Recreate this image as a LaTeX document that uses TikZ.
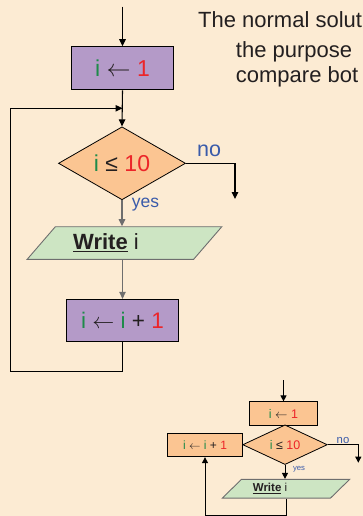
\documentclass[tikz,border=0pt]{standalone}
\usepackage{graphicx}
\usepackage{fontspec}
\setmainfont{Liberation Sans}
\usetikzlibrary{shapes.geometric,arrows.meta}

\definecolor{bgcream}{HTML}{FCEBD3}
\definecolor{boxpurple}{HTML}{B49AC8}
\definecolor{decorange}{HTML}{FBC592}
\definecolor{iogreen}{HTML}{CDE5C3}
\definecolor{vargreen}{HTML}{1E8B4A}
\definecolor{numred}{HTML}{EC2529}
\definecolor{lblblue}{HTML}{3A5BAA}
\definecolor{flowgray}{HTML}{6E6E6E}
\definecolor{inkdark}{HTML}{231F20}

\newcommand{\fsz}[1]{\fontsize{#1}{#1}\selectfont}
\newcommand{\vi}{\textcolor{vargreen}{i}}
\newcommand{\nr}[1]{\textcolor{numred}{#1}}
% assignment arrow, scaled from a 10pt math arrow
\newcommand{\getsarrow}[1]{\scalebox{#1}{\fontsize{10}{10}\selectfont$\leftarrow$}}

\begin{document}
\begin{tikzpicture}[x=1pt,y=-1pt,
  proc/.style={rectangle, draw=black, line width=0.9pt, inner sep=0pt, text=inkdark},
  dec/.style={diamond, draw=black, line width=0.8pt, fill=decorange, inner sep=0pt, text=inkdark},
  io/.style={trapezium, trapezium stretches=true, draw=flowgray, line width=0.9pt,
             fill=iogreen, inner sep=0pt, text=inkdark},
  plain/.style={inner sep=0pt, text=inkdark},
  lbl/.style={inner sep=0pt, text=lblblue},
  flow/.style={line width=1.1pt, -{Triangle[length=7pt,width=6.5pt]}},
  grayflow/.style={flow, draw=flowgray},
  sflow/.style={line width=1pt, -{Triangle[length=6pt,width=6pt]}}]

\useasboundingbox (0,0) rectangle (363,516);
\clip (0,0) rectangle (363,516);
\fill[bgcream] (0,0) rectangle (363,516);

% ---------- heading text ----------
\node[plain, anchor=base west] (t1) at (198,27.7) {\fsz{22}The normal solut};
\node[plain, anchor=base west] (t2) at (235.7,57.3) {\fsz{22}the purpose};
\node[plain, anchor=base west] (t3) at (235.7,82.7) {\fsz{22}compare bot};

% ---------- large flowchart ----------
\node[proc, fill=boxpurple, minimum width=102pt, minimum height=43.3pt] (init) at (122.5,68.3)
  {\fsz{23}\vi\ \getsarrow{2.4}\ \nr{1}};
\node[dec, minimum width=127pt, minimum height=65.3pt] (test) at (122,163.3)
  {\fsz{23}\vi\ ≤ \nr{10}};
% the trailing space pushes the caption left of the shape's centre
\node[io, trapezium left angle=41, trapezium right angle=139,
      minimum width=195pt, minimum height=32.6pt] (out) at (124.5,243)
  {\fsz{22}\underline{\textbf{Write}} i\hspace*{37pt}};
\node[proc, fill=boxpurple, minimum width=111.6pt, minimum height=42.4pt] (incr) at (122.5,320.5)
  {\fsz{22.5}\vi\ \getsarrow{2.2}\ \vi\ + \nr{1}};

\coordinate (start) at (122.5,6.7);
\coordinate (join) at (122.5,108.3);
\coordinate (loopbl) at (10.7,371.7);
\coordinate (noend) at (235,199);

\draw[flow] (start) -- (init.north);
\draw[flow] (init.south) -- (test.north);
\draw[flow] (test.east) -| (noend);
\draw[grayflow] (test.south) -- (test.south |- out.north);
\draw[grayflow] (incr.north |- out.south) -- (incr.north);
\draw[flow] (incr.south) |- (loopbl) |- (join);

\node[lbl] (nolbl) at (209,151) {\fsz{21.5}no};
\node[lbl] (yeslbl) at (145.5,205) {\fsz{17.5}yes};

% ---------- small flowchart ----------
\node[proc, fill=decorange, minimum width=67.7pt, minimum height=23.3pt] (sinit) at (283.5,413.5)
  {\fsz{12.5}\vi\ \getsarrow{1.25}\ \nr{1}};
\node[dec, minimum width=84.6pt, minimum height=37pt] (stest) at (285,444.7)
  {\fsz{12.5}\vi\ ≤ \nr{10}};
\node[proc, fill=decorange, minimum width=75.4pt, minimum height=23.4pt] (sincr) at (205,445)
  {\fsz{12}\vi\ \getsarrow{1.15}\ \vi\ + \nr{1}};
\node[io, trapezium left angle=36.3, trapezium right angle=143.7,
      minimum width=128pt, minimum height=18.7pt] (sout) at (286,488.7)
  {\fsz{11.5}\underline{\textbf{Write}} i\hspace*{32pt}};

\coordinate (sstart) at (283.5,380);
\coordinate (snoend) at (358.3,462.7);
\coordinate (sloopbr) at (286,515);

\draw[sflow] (sstart) -- (sinit.north);
\draw[sflow] (stest.east) -| (snoend);
\draw[sflow] (stest.south) -- (stest.south |- sout.north);
\draw[sflow] (sloopbr |- sout.south) -- (sloopbr) -| (sincr.south);

\node[lbl] (snolbl) at (343,440.7) {\fsz{11.3}no};
\node[lbl] (syeslbl) at (299,469) {\fsz{7.7}yes};
\end{tikzpicture}
\end{document}
